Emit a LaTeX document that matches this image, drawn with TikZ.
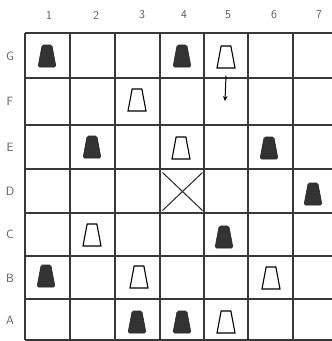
\documentclass[tikz,border=0pt]{standalone}
\usetikzlibrary{shapes.geometric,shapes.misc,arrows.meta}
\begin{document}
\begin{tikzpicture}[x=1pt,y=-1pt,
  gridline/.style={draw=black!78,line width=1.2pt},
  lbl/.style={text=black!65,font=\sffamily\fontsize{12}{14}\selectfont,inner sep=0pt},
  piece/.style={trapezium,trapezium stretches=true,trapezium angle=67,
     minimum width=18pt,minimum height=22pt,inner sep=1pt},
  blackpiece/.style={piece,fill=black!80,draw=black!85,line width=0.6pt,rounded corners=1.5pt},
  whitepiece/.style={piece,fill=white,draw=black,line width=1.1pt}]
\useasboundingbox (0,0) rectangle (332,341);
\fill[white] (0,0) rectangle (332,341);
\begin{scope}
\clip (0,0) rectangle (332,341);
% grid
\foreach \x in {25,70,115,160,204,248,293,338}
  \draw[gridline] (\x,33) -- (\x,340);
\foreach \y in {33,78,125,169,213,256,299,340}
  \draw[gridline] (25,\y) -- (340,\y);
\end{scope}
% column labels
\node[lbl] (c1) at (49,15) {1};
\node[lbl] (c2) at (96,15) {2};
\node[lbl] (c3) at (142,15) {3};
\node[lbl] (c4) at (184,15) {4};
\node[lbl] (c5) at (228,15) {5};
\node[lbl] (c6) at (274,15) {6};
\node[lbl] (c7) at (319,15) {7};
% row labels
\node[lbl] (rG) at (10,56) {G};
\node[lbl] (rF) at (10,101) {F};
\node[lbl] (rE) at (10,147) {E};
\node[lbl] (rD) at (10,191) {D};
\node[lbl] (rC) at (10,234) {C};
\node[lbl] (rB) at (10,278) {B};
\node[lbl] (rA) at (10,320) {A};
% pieces
\node[blackpiece] (g1) at (47,56) {};
\node[blackpiece] (g4) at (182,56) {};
\node[whitepiece] (g5) at (226,57) {};
\node[whitepiece] (f3) at (137,100) {};
\node[blackpiece] (e2) at (92,147) {};
\node[whitepiece] (e4) at (181,148) {};
\node[blackpiece] (e6) at (269,148) {};
\node[blackpiece] (d7) at (313,194) {};
\node[whitepiece] (c2w) at (92,235) {};
\node[blackpiece] (c5) at (224,237) {};
\node[blackpiece] (b1) at (46,276) {};
\node[whitepiece] (b3) at (139,277) {};
\node[whitepiece] (b6) at (271,278) {};
\node[blackpiece] (a3) at (137,322) {};
\node[blackpiece] (a4) at (182,322) {};
\node[whitepiece] (a5) at (226,322) {};
% cross in D4
\node[cross out,draw=black!85,line width=1pt,minimum width=39pt,minimum height=37pt,inner sep=0pt] (d4) at (182.5,191.5) {};
% arrow
\coordinate (f5) at (225,101);
\draw[line width=1pt,-{Stealth[length=5pt,width=4.5pt]}] ([yshift=-7pt]g5.south) -- (f5);
\end{tikzpicture}
\end{document}
